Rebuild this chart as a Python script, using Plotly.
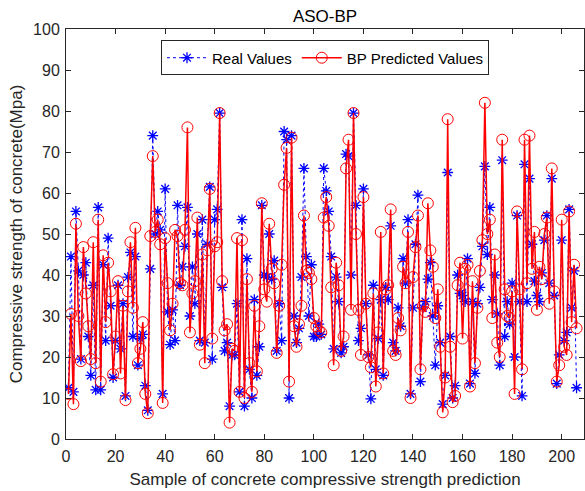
import plotly.graph_objects as go

real_values = [12.5, 44.5, 11.5, 55.5, 41, 19.5, 40, 43, 25, 15.5,
               37.5, 12, 56.5, 12, 42.5, 24, 49, 32.5, 15, 24,
               37.5, 22, 33, 10.5, 39.5, 45.5, 25, 44.5, 18, 24.5,
               25.5, 13, 7, 41.5, 74, 50, 55.5, 51, 11, 61,
               31, 23, 31.5, 24, 57, 37.5, 42, 47, 56.5, 30,
               42, 33, 50, 24, 53.5, 23.5, 47.5, 61.5, 19.5, 53.5,
               56, 79.5, 37, 21.5, 23.5, 8, 20.5, 20.5, 33, 11.5,
               53.5, 8, 44, 17, 10, 34, 15.5, 22.5, 57, 40,
               39.5, 50, 39, 43.5, 21.5, 33, 24, 75, 73, 10,
               74, 30, 23.5, 27, 39.5, 66, 44.5, 30, 42.5, 25,
               25, 28, 25.5, 66, 60.5, 55.5, 44.5, 22, 39.5, 33.5,
               21, 22.5, 69.5, 69, 40, 79.5, 57, 24, 27, 61,
               33, 20.5, 9.8, 37.5, 17, 24.5, 34, 15.5, 37, 34,
               52, 23.5, 21.5, 32, 27.5, 44, 38, 53.5, 11, 32,
               47.5, 59.5, 14, 32, 33.5, 39, 43, 30, 18, 32.5,
               23.5, 8.5, 15.5, 65, 25, 10, 13, 40, 35.5, 35,
               33.5, 44, 13.5, 33.5, 16, 33, 37, 47, 66.5, 45,
               56.5, 34, 40, 30.5, 18, 68, 25, 33.5, 28, 38,
               20, 54.5, 33.5, 10.5, 67, 33.5, 63.5, 47.5, 38.5, 35,
               33.5, 40.5, 48.5, 54.5, 38, 63.5, 35, 13.5, 20.5, 48.5,
               24, 26, 56, 32, 41, 12.5]

predicted_values = [11, 30.5, 8.5, 52.5, 30, 19, 46.8, 35.5, 27.5, 19.5,
                    48, 18.5, 53.5, 14, 44.8, 28.5, 43, 36, 15.8, 25,
                    38.5, 16, 32.5, 9.5, 36, 48, 32, 51.5, 18.5, 22,
                    28.5, 11, 6.3, 49.5, 69, 50.5, 53.5, 47.5, 8.8, 49,
                    38, 26.5, 33, 51, 49.5, 38, 37.5, 51, 76, 26,
                    35.5, 38.5, 54, 23, 45, 18.5, 46, 61, 24.5, 47,
                    48, 79.5, 38.5, 26.5, 28, 4, 22, 21.5, 49, 11.5,
                    48.5, 10, 39, 18.5, 11.5, 32.5, 16.5, 27.5, 57.5, 36.5,
                    33.5, 52.5, 41.5, 38, 21, 32.5, 42.5, 62, 71, 14,
                    73.5, 27.5, 22.5, 28, 32.5, 54.5, 41, 40.5, 39, 29.5,
                    27.5, 26.5, 26, 54, 59, 52, 37, 18, 43, 37.5,
                    21.5, 25, 66, 73, 31.5, 79.5, 50, 31.5, 20.5, 59,
                    33, 20, 17.5, 35.5, 12.8, 26, 50.5, 16, 36.5, 37.5,
                    56, 21.5, 20.5, 29.5, 26.5, 42, 38, 50.5, 10, 39.5,
                    46.8, 54.5, 17, 32.5, 31, 57.5, 46, 42, 29.5, 36.5,
                    22.5, 6.5, 15, 78, 22.5, 9, 10.5, 37.5, 43, 24.5,
                    41.5, 42.5, 12.8, 38.5, 18.5, 32, 41, 48.5, 82, 50,
                    53.5, 29.5, 45, 23.5, 20, 73, 36.5, 30, 29.5, 36,
                    11, 55.5, 36.5, 17, 73, 38, 74, 41.5, 50.5, 31.5,
                    42, 39, 50, 54, 33, 66, 36, 14, 18, 53.5,
                    22.5, 20.5, 55.5, 28.5, 42.5, 27]

sample_index = list(range(1, len(real_values) + 1))
x_ticks = list(range(0, 201, 20))
y_ticks = list(range(0, 101, 10))

FONT = "Liberation Sans, Arial, sans-serif"
AXC = "#262626"

fig = go.Figure()
fig.add_trace(go.Scatter(
    x=sample_index, y=real_values, name="Real Values",
    mode="lines+markers",
    line=dict(color="#0000ff", width=1, dash="dot"),
    marker=dict(symbol="asterisk-open", size=9, color="#0000ff",
                line=dict(color="#0000ff", width=1.3)),
))
fig.add_trace(go.Scatter(
    x=sample_index, y=predicted_values, name="BP Predicted Values",
    mode="lines+markers",
    line=dict(color="#ff0000", width=1.5),
    marker=dict(symbol="circle-open", size=11, color="#ff0000",
                line=dict(color="#ff0000", width=1)),
))

axis_common = dict(
    showline=True, linecolor=AXC, linewidth=1, mirror="allticks",
    ticks="inside", ticklen=5, tickcolor=AXC, tickwidth=1,
    showgrid=False, zeroline=False,
    tickfont=dict(family=FONT, size=16, color=AXC),
)

fig.update_layout(
    width=585, height=491,
    margin=dict(l=66, r=1, t=29, b=52),
    paper_bgcolor="white", plot_bgcolor="white",
    font=dict(family=FONT, color=AXC),
    title=dict(text="ASO-BP", x=0.5, xref="paper", xanchor="center",
               y=0.968, yanchor="middle",
               font=dict(family=FONT, size=17, color="black")),
    xaxis=dict(range=[0, 209], tickvals=x_ticks, ticklabelstandoff=3,
               title=dict(text="Sample of concrete compressive strength prediction",
                          font=dict(family=FONT, size=17, color=AXC), standoff=8),
               **axis_common),
    yaxis=dict(range=[0, 100], tickvals=y_ticks, ticklabelstandoff=2,
               title=dict(text="Compressive strength of concrete(Mpa)",
                          font=dict(family=FONT, size=17, color=AXC), standoff=6),
               **axis_common),
    legend=dict(orientation="h", x=0.5, xanchor="center", y=0.972, yanchor="top",
                bgcolor="white", bordercolor=AXC, borderwidth=1,
                font=dict(family=FONT, size=15, color="black"),
                itemwidth=40),
    showlegend=True,
)

fig.write_html("out.html")
